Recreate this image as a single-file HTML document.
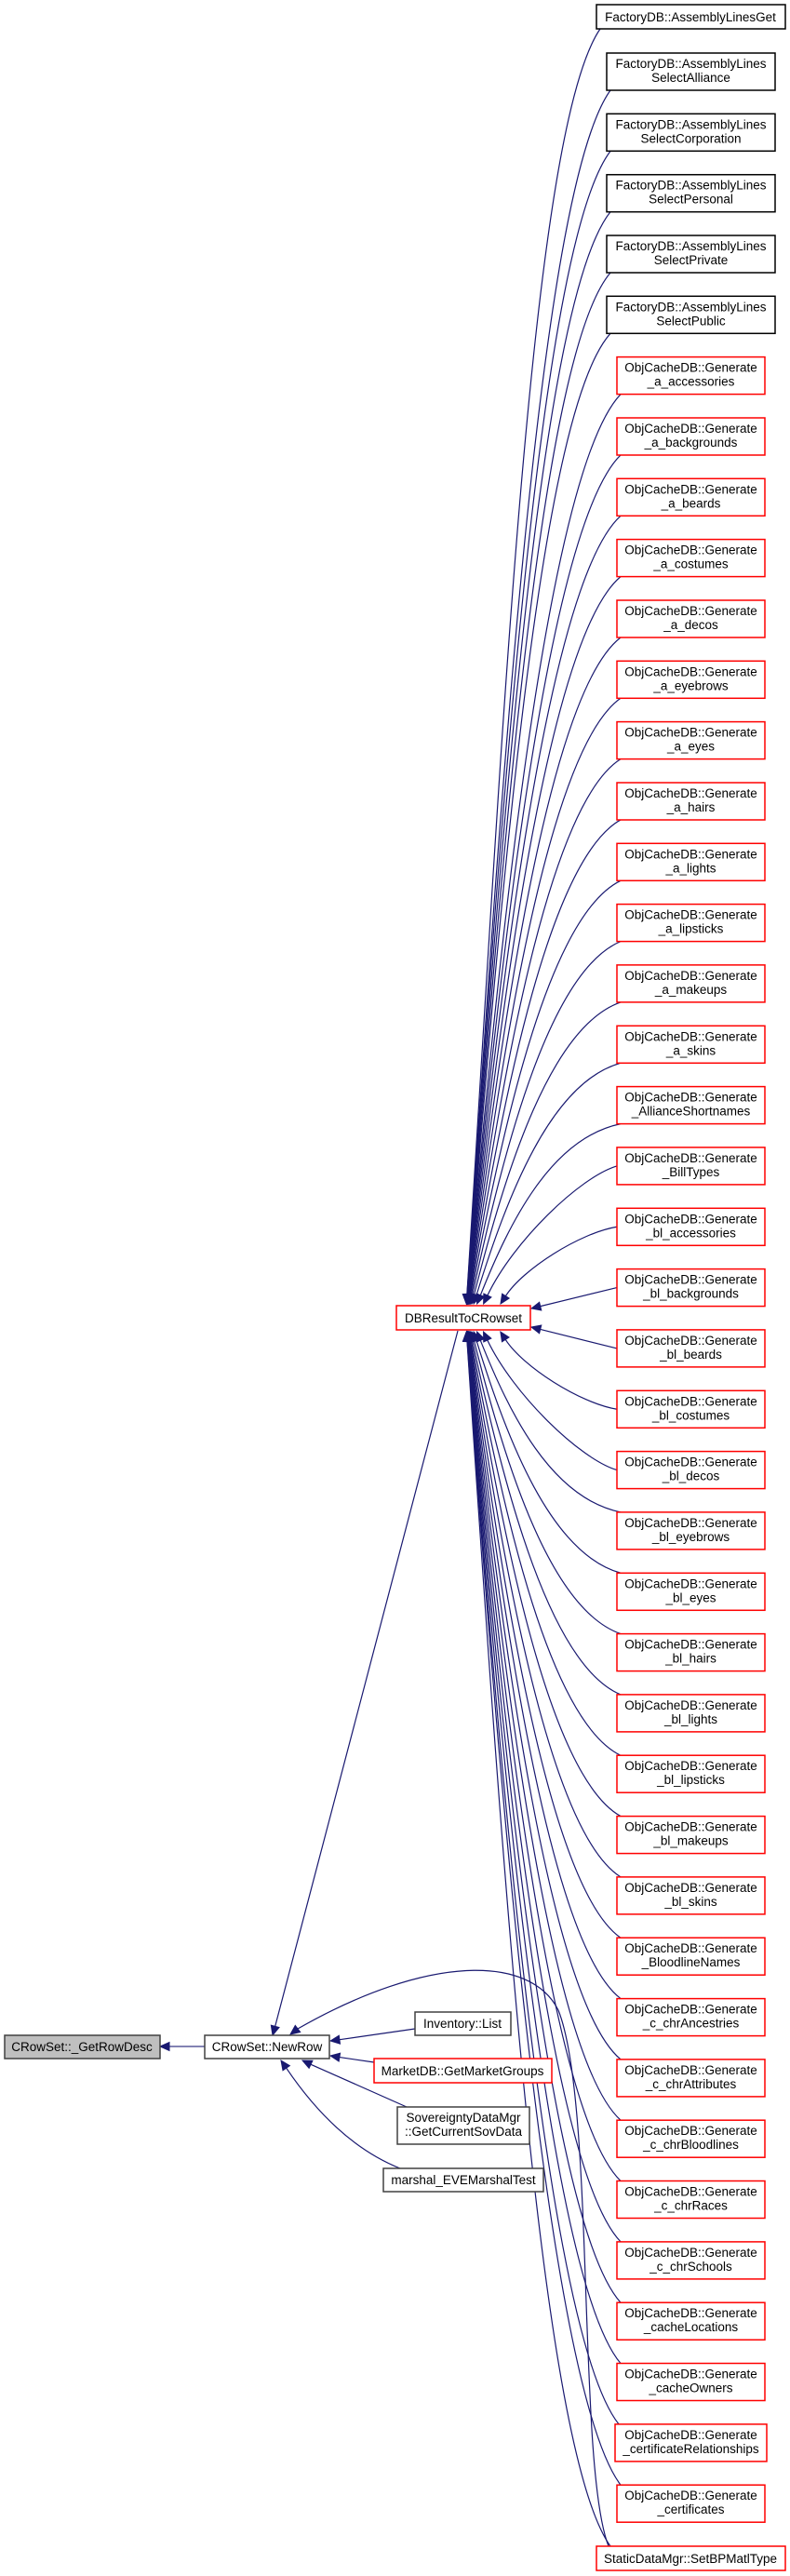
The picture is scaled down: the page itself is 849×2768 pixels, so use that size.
<!DOCTYPE html>
<html><head><meta charset="utf-8">
<style>
html,body{margin:0;padding:0;background:#fff;}
svg{display:block;}
text{font-family:"Liberation Sans",Arial,sans-serif;font-size:13.5px;fill:#000;text-anchor:middle;}
</style></head>
<body>
<svg id="g" width="849" height="2768" viewBox="0 0 849 2768" xmlns="http://www.w3.org/2000/svg">
<g id="edges" fill="none" stroke="#191970" stroke-width="1.2"></g>
<g id="heads" fill="#191970" stroke="#191970"></g>
<g id="nodes" stroke-width="1.5">
<rect x="5" y="2187" width="167" height="25" fill="#bfbfbf" stroke="#404040"/><text x="88" y="2204">CRowSet::_GetRowDesc</text>
<rect x="220" y="2187" width="134" height="25" fill="#fff" stroke="#404040"/><text x="287" y="2204">CRowSet::NewRow</text>
<rect x="426" y="1403" width="144" height="26" fill="#fff" stroke="#ff0000"/><text x="498" y="1421">DBResultToCRowset</text>
<rect x="446" y="2162" width="103" height="25" fill="#fff" stroke="#404040"/><text x="497" y="2179">Inventory::List</text>
<rect x="402" y="2212" width="191" height="26" fill="#fff" stroke="#ff0000"/><text x="497" y="2230">MarketDB::GetMarketGroups</text>
<rect x="427" y="2264" width="142" height="40" fill="#fff" stroke="#404040"/><text x="498" y="2280">SovereigntyDataMgr</text><text x="498" y="2295">::GetCurrentSovData</text>
<rect x="412" y="2330" width="172" height="25" fill="#fff" stroke="#404040"/><text x="498" y="2347">marshal_EVEMarshalTest</text>
<rect x="641" y="5" width="203" height="26" fill="#fff" stroke="#000"/><text x="742" y="23">FactoryDB::AssemblyLinesGet</text>
<rect x="641" y="2736" width="203" height="26" fill="#fff" stroke="#ff0000"/><text x="742" y="2754">StaticDataMgr::SetBPMatlType</text>
</g>
</svg>
<script>
(function(){
var NS="http://www.w3.org/2000/svg";
var names=["SelectAlliance","SelectCorporation","SelectPersonal","SelectPrivate","SelectPublic",
"_a_accessories","_a_backgrounds","_a_beards","_a_costumes","_a_decos","_a_eyebrows","_a_eyes","_a_hairs","_a_lights","_a_lipsticks","_a_makeups","_a_skins","_AllianceShortnames","_BillTypes",
"_bl_accessories","_bl_backgrounds","_bl_beards","_bl_costumes","_bl_decos","_bl_eyebrows","_bl_eyes","_bl_hairs","_bl_lights","_bl_lipsticks","_bl_makeups","_bl_skins","_BloodlineNames",
"_c_chrAncestries","_c_chrAttributes","_c_chrBloodlines","_c_chrRaces","_c_chrSchools","_cacheLocations","_cacheOwners","_certificateRelationships","_certificates"];
var nodes=document.getElementById("nodes"),edges=document.getElementById("edges"),heads=document.getElementById("heads");
function el(t,a,p){var e=document.createElementNS(NS,t);for(var k in a)e.setAttribute(k,a[k]);(p||nodes).appendChild(e);return e;}
function head(x2,y2,x3,y3){var dx=x3-x2,dy=y3-y2,l=Math.sqrt(dx*dx+dy*dy)||1;dx/=l;dy/=l;var bx=x3-dx*10,by=y3-dy*10;
 el("polygon",{points:x3+","+y3+" "+(bx-dy*4.5)+","+(by+dx*4.5)+" "+(bx+dy*4.5)+","+(by-dx*4.5)},heads);return [bx,by];}
var boxes=[{L:641,t:5,h:26}];
for(var i=0;i<names.length;i++){
 var t=57+65.33*i,fac=i<5,L=fac?652:663,W=fac?181:159;
 if(names[i]=="_certificateRelationships"){L=661;W=163;}
 el("rect",{x:L,y:t.toFixed(1),width:W,height:40,fill:"#fff",stroke:fac?"#000":"#ff0000"});
 var tx=el("text",{x:L+W/2,y:(t+16).toFixed(1)});tx.textContent=fac?"FactoryDB::AssemblyLines":"ObjCacheDB::Generate";
 var tx2=el("text",{x:L+W/2,y:(t+31).toFixed(1)});tx2.textContent=names[i];
 boxes.push({L:L,t:t,h:40});
}
boxes.push({L:641,t:2736,h:26,sdm:true});
boxes.forEach(function(b){
 var c=b.t+b.h/2,dy=c-1416,ad=Math.abs(dy),sx,sy,ex,ey,d;
 if(ad<60){sx=b.L;sy=c;ex=571;ey=1416+(dy<0?-10:10);
  var h=head(sx,sy,ex,ey);d="M"+sx+","+sy+" L"+h[0]+","+h[1];}
 else{
  if(ad<180){sx=b.L;sy=c;}else{sx=b.L+4;sy=dy<0?b.t+b.h:b.t;}
  if(b.sdm)sx=656;
  var f=Math.pow(Math.min(1,98/ad),1.3);
  ex=500+38*f;ey=dy<0?1401:1431;
  var D=ey-sy;
  var p1x=sx-(ad<180?40:75),p1y=sy+0.08*D;
  var p2x=ex+10+30*(1-f)+14*f,p2y=ey-0.45*D;
  var h=head(p2x,p2y,ex,ey);
  d="M"+sx+","+sy+" C"+p1x+","+p1y+" "+p2x+","+p2y+" "+h[0]+","+h[1];}
 el("path",{d:d},edges);
});
var h=head(470,1550,293,2187);el("path",{d:"M492,1430 L"+h[0]+","+h[1]},edges);
h=head(360,2150,312,2186);
el("path",{d:"M654,2736 C620,2650 640,2260 600,2160 C570,2100 460,2100 "+h[0]+","+h[1]},edges);
h=head(400,2187,355,2193);el("path",{d:"M446,2180 L"+h[0]+","+h[1]},edges);
h=head(380,2213,355,2209);el("path",{d:"M402,2216 L"+h[0]+","+h[1]},edges);
h=head(380,2240,325,2214);el("path",{d:"M437,2264 L"+h[0]+","+h[1]},edges);
h=head(320,2240,302,2214);el("path",{d:"M430,2330 C380,2310 340,2270 "+h[0]+","+h[1]},edges);
h=head(200,2199,172,2199);el("path",{d:"M220,2199 L"+h[0]+","+h[1],stroke:"#5a5a9a","stroke-width":1.6},edges);
})();
</script>
</body></html>
